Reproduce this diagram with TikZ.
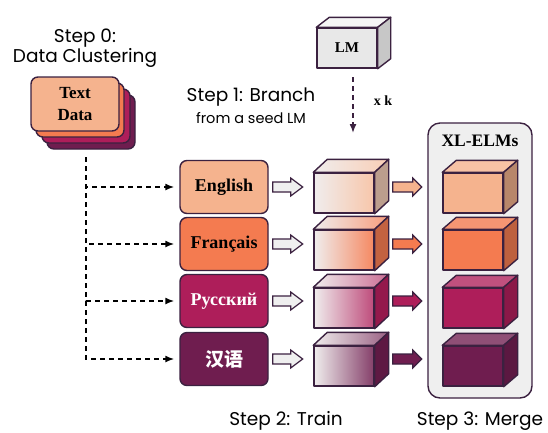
\documentclass[tikz,border=0pt]{standalone}
\usepackage{fontspec}
\setmainfont{Liberation Serif}
\newfontfamily\stepfont{Poppins}
\newfontfamily\cjk{Noto Sans CJK SC}
\usetikzlibrary{arrows.meta,calc}

\definecolor{peach}{HTML}{F5B38E}
\definecolor{coral}{HTML}{F47B50}
\definecolor{berry}{HTML}{AE1E5A}
\definecolor{plum}{HTML}{6F1D4F}
\definecolor{edge}{HTML}{3B2140}
\definecolor{paper}{HTML}{EFEFEF}
\definecolor{fade}{HTML}{F0EDED}

% top and side faces of a box whose front face is node #1, depth (#2,#3)
\newcommand\cubefaces[5]{%
  \draw[cubeline,#4] (#1.north west) -- ([shift={(#2,-#3)}]#1.north west)
    -- ([shift={(#2,-#3)}]#1.north east) -- (#1.north east) -- cycle;
  \draw[cubeline,#5] (#1.north east) -- ([shift={(#2,-#3)}]#1.north east)
    -- ([shift={(#2,-#3)}]#1.south east) -- (#1.south east) -- cycle;
}
% horizontal block arrow: style, start point, length, head length
\newcommand\blockarrow[4]{%
  \draw[#1] #2 ++(0,-5) -- ++({#3-#4},0) -- ++(0,-4) -- ++(#4,9)
    -- ++(-#4,9) -- ++(0,-4) -- ++({#4-#3},0) -- cycle;
}

\tikzset{
  cubeline/.style={draw=edge, line width=1.4pt, line join=round},
  front/.style={cubeline, minimum width=60pt, minimum height=40pt, inner sep=0pt},
  card/.style={draw=edge, line width=1.4pt, rounded corners=7pt,
    minimum width=88pt, minimum height=54pt, inner sep=0pt},
  langbox/.style={draw=edge, line width=1.4pt, rounded corners=7pt,
    minimum width=88pt, minimum height=53pt, inner sep=0pt,
    font=\fontsize{18}{20}\selectfont\bfseries},
  steptext/.style={font=\stepfont\fontsize{18.5}{21}\selectfont, text=black},
  hollow/.style={draw=edge, fill=paper, line width=1.2pt, line join=miter},
  solidarrow/.style={draw=edge, line width=1.2pt, line join=miter},
  dasharrow/.style={draw=black, line width=1.6pt, dash pattern=on 5pt off 4pt,
    -{Latex[length=9pt,width=7pt]}},
}

\begin{document}
\begin{tikzpicture}[x=1pt,y=-1pt]
\useasboundingbox (0,0) rectangle (548,432);

% ---- step captions ----
\node[steptext] (s0a) at (85,38) {Step 0:};
\node[steptext] (s0b) at (85,58) {Data Clustering};
\node[steptext] (s1a) at (251,97) {Step 1: Branch};
\node[font=\stepfont\fontsize{14.5}{16}\selectfont] (s1b) at (251,118) {from a seed LM};
\node[steptext] (s2) at (286,421) {Step 2: Train};
\node[steptext] (s3) at (480,421) {Step 3: Merge};

% ---- Step 0: clustered text data ----
\node[card, fill=plum]  (c4) at (91,122) {};
\node[card, fill=berry] (c3) at (86,116) {};
\node[card, fill=coral] (c2) at (80,110) {};
\node[card, fill=peach, align=center, font=\fontsize{17}{22}\selectfont\bfseries]
  (c1) at (75,104) {Text\\Data};

% ---- language clusters ----
\node[langbox, fill=peach] (en) at (224,187) {English};
\node[langbox, fill=coral] (fr) at (224,244) {Français};
\node[langbox, fill=berry, text=white] (ru) at (224,301) {Русский};
\node[langbox, fill=plum, text=white, font=\cjk\fontsize{19}{20}\selectfont\bfseries] (zh) at (224,359) {汉语};

\coordinate (trunk) at (86,157);
\foreach \b in {en,fr,ru,zh}{
  \draw[dasharrow, shorten >=5pt] (trunk) |- (\b.west);
}

% ---- Step 1: seed LM branched k times ----
\node[front, fill=black!9, font=\fontsize{15}{18}\selectfont\bfseries] (lm) at (347,48) {LM};
\cubefaces{lm}{13}{10}{fill=black!4}{fill=black!22}
\coordinate (lmstart) at (353,77);
\coordinate (lmend) at (353,133);
\draw[draw=edge, line width=1.5pt, dash pattern=on 5pt off 4pt,
  -{Latex[length=9pt,width=7pt]}] (lmstart) -- (lmend);
\node[font=\fontsize{14}{16}\selectfont\bfseries] (xk) at (383,101) {x k};

% ---- Step 2: training the branches ----
\node[front, left color=fade, right color=peach!75!white] (t1) at (344,193) {};
\cubefaces{t1}{14}{13}{left color=fade, right color=peach!65!white}{fill=peach!65!black!70!white}
\node[front, left color=fade, right color=coral!90!white] (t2) at (344,250) {};
\cubefaces{t2}{14}{13}{left color=fade, right color=coral!75!white}{fill=coral!80!black}
\node[front, left color=fade, right color=berry!80!white] (t3) at (344,308) {};
\cubefaces{t3}{14}{13}{left color=fade, right color=berry!65!white}{fill=berry!85!black}
\node[front, left color=fade, right color=plum!85!white] (t4) at (344,366) {};
\cubefaces{t4}{14}{13}{left color=fade, right color=plum!70!white}{fill=plum!85!black}

\foreach \b in {en,fr,ru,zh}{
  \blockarrow{hollow}{([xshift=4pt]\b.east)}{30}{12}
}

% ---- Step 3: merged expert set ----
\blockarrow{solidarrow, fill=peach}{([xshift=4pt]en.east -| t1.east) ++(14,0)}{29}{9}
\blockarrow{solidarrow, fill=coral}{([xshift=4pt]fr.east -| t1.east) ++(14,0)}{29}{9}
\blockarrow{solidarrow, fill=berry}{([xshift=4pt]ru.east -| t1.east) ++(14,0)}{29}{9}
\blockarrow{solidarrow, fill=plum}{([xshift=4pt]zh.east -| t1.east) ++(14,0)}{29}{9}

\node[draw=edge, fill=paper, line width=1.4pt, rounded corners=12pt,
  minimum width=104pt, minimum height=275pt, inner sep=0pt] (panel) at (480,260.5) {};
\node[font=\fontsize{17.5}{19}\selectfont\bfseries] (xl) at (480,141) {XL-ELMs};

\node[front, fill=peach] (e1) at (473,193) {};
\cubefaces{e1}{14}{12}{fill=peach!80!white}{fill=peach!75!black}
\node[front, fill=coral] (e2) at (473,250) {};
\cubefaces{e2}{14}{12}{fill=coral!80!white}{fill=coral!78!black}
\node[front, fill=berry] (e3) at (473,308) {};
\cubefaces{e3}{14}{12}{fill=berry!78!white}{fill=berry!80!black}
\node[front, fill=plum] (e4) at (473,366) {};
\cubefaces{e4}{14}{12}{fill=plum!78!white}{fill=plum!82!black}
\end{tikzpicture}
\end{document}
